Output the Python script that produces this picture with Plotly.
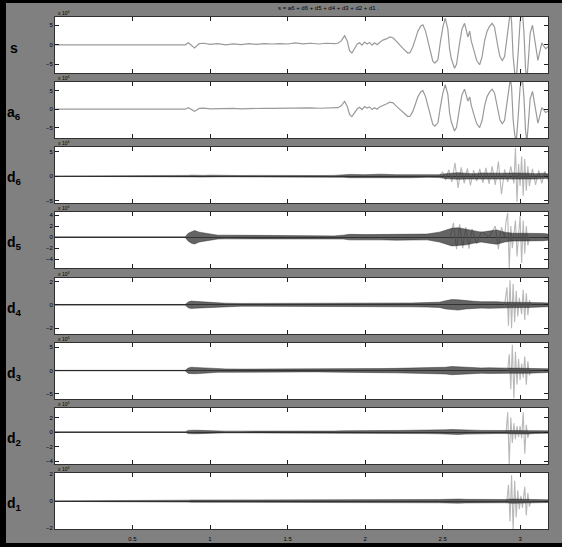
import plotly.graph_objects as go

# ---------------- data (x in units of 10^4 samples) ----------------
x_s = [0, 0.84, 0.86, 0.88, 0.9, 0.93, 0.96, 1.0, 1.05, 1.1, 1.15, 1.2, 1.25, 1.3, 1.35, 1.4, 1.45, 1.5,
       1.55, 1.6, 1.65, 1.7, 1.75, 1.8, 1.825, 1.846, 1.868, 1.885, 1.9, 1.915, 1.932, 1.95, 1.965, 1.98,
       1.997, 2.013, 2.029, 2.045, 2.061, 2.077, 2.094, 2.115, 2.137, 2.16, 2.18, 2.2, 2.212, 2.244, 2.26,
       2.276, 2.29, 2.308, 2.325, 2.341, 2.36, 2.373, 2.39, 2.405, 2.42, 2.437, 2.45, 2.47, 2.485, 2.502,
       2.517, 2.534, 2.545, 2.556, 2.577, 2.59, 2.61, 2.625, 2.642, 2.655, 2.663, 2.675, 2.685, 2.706, 2.72,
       2.739, 2.755, 2.771, 2.787, 2.803, 2.82, 2.835, 2.845, 2.857, 2.87, 2.885, 2.9, 2.911, 2.925, 2.937,
       2.945, 2.955, 2.965, 2.975, 2.986, 3.0, 3.014, 3.025, 3.035, 3.044, 3.055, 3.065, 3.08, 3.092, 3.105,
       3.115, 3.126, 3.14, 3.152, 3.165, 3.18]

s_vals = [0, 0, 0.5, -0.1, -0.8, 0.3, 0.4, 0.1, 0.3, 0.0, 0.25, 0.05, 0.3, 0.1, 0.3, 0.2, 0.3, 0.2,
          0.5, 0.25, 0.4, 0.2, 0.4, 0.3, 0.4, 1.0, 2.3, 1.0, -1.5, -2.1, -0.8, 0.2, 0.5, -0.1,
          0.7, 0.2, 0.6, -0.1, 0.5, 0.0, 0.6, 1.2, 1.5, 2.0, 1.8, 0.8, 0.5, -0.9, -1.6,
          -2.1, -2.0, -0.5, 1.5, 3.5, 4.8, 5.1, 3.5, 1.0, -2.0, -4.2, -4.7, -3.8, 0.5, 4.5,
          6.8, 4.0, -1.0, -3.5, -6.0, -5.0, 0.5, 4.0, 5.5, 3.0, 2.0, 3.5, 1.0, -2.0, -4.0,
          -5.1, -3.0, 1.0, 3.5, 4.7, 5.5, 4.5, 2.0, -0.5, -3.0, -4.0, -3.0, 0.5, 5.0, 8.5,
          6.0, -3.0, -7.0, -9.0, -3.0, 6.0, 9.0, 3.0, -6.0, -9.0, -3.0, 3.0, 5.0, 2.0, -2.0,
          -4.0, -2.0, 0.5, -0.3, -1.0, -0.5]

a6_vals = [0, 0, 0.4, 0.0, -0.6, 0.2, 0.3, 0.1, 0.2, 0.1, 0.2, 0.1, 0.2, 0.15, 0.25, 0.2, 0.25, 0.2,
           0.4, 0.3, 0.35, 0.25, 0.35, 0.3, 0.4, 0.9, 2.1, 0.8, -1.4, -2.0, -0.9, 0.1, 0.5, -0.1,
           0.7, 0.3, 0.6, -0.1, 0.4, 0.0, 0.6, 1.1, 1.4, 1.9, 1.7, 0.9, 0.4, -0.9, -1.5,
           -2.0, -1.9, -0.6, 1.4, 3.4, 4.7, 5.0, 3.4, 0.9, -2.0, -4.1, -4.6, -3.7, 0.4, 4.4,
           6.6, 4.0, -0.9, -3.4, -5.9, -4.9, 0.4, 3.9, 5.4, 3.1, 2.2, 3.3, 1.0, -2.0, -3.9,
           -5.0, -3.0, 0.9, 3.4, 4.6, 5.4, 4.4, 2.0, -0.5, -2.9, -3.9, -3.0, 0.4, 4.8, 8.2,
           6.0, -2.8, -6.8, -8.8, -3.0, 5.8, 8.8, 3.0, -5.8, -8.8, -3.0, 2.8, 4.8, 2.0, -1.8,
           -3.8, -2.0, 0.4, -0.2, -0.9, -0.5]

# detail envelopes (dense core), sampled on a common x grid
xd = [0, 0.84, 0.86, 0.88, 0.9, 0.93, 0.96, 1.0, 1.05, 1.1, 1.2, 1.3, 1.4, 1.5, 1.6, 1.7, 1.8, 1.86, 1.9, 2.0,
      2.1, 2.2, 2.3, 2.4, 2.48, 2.52, 2.56, 2.6, 2.65, 2.7, 2.75, 2.8, 2.85, 2.9, 2.95, 3.0, 3.05, 3.1, 3.15, 3.18]

d6_hi = [0.04, 0.04, 0.15, 0.2, 0.15, 0.2, 0.15, 0.2, 0.15, 0.15, 0.12, 0.15, 0.12, 0.12, 0.12, 0.12, 0.15, 0.25, 0.35, 0.3,
         0.4, 0.3, 0.35, 0.25, 0.3, 0.5, 0.65, 0.7, 0.6, 0.5, 0.65, 0.6, 0.5, 0.6, 0.65, 0.7, 0.6, 0.5, 0.6, 0.45]
d6_lo = [-0.04, -0.04, -0.15, -0.18, -0.16, -0.2, -0.15, -0.18, -0.15, -0.14, -0.15, -0.13, -0.12, -0.12, -0.15, -0.12, -0.13, -0.25, -0.32, -0.35,
         -0.32, -0.38, -0.32, -0.25, -0.3, -0.5, -0.65, -0.65, -0.6, -0.6, -0.65, -0.6, -0.6, -0.65, -0.65, -0.7, -0.65, -0.6, -0.5, -0.45]

d5_hi = [0.06, 0.06, 0.7, 1.0, 1.2, 0.9, 0.75, 0.6, 0.35, 0.35, 0.32, 0.28, 0.25, 0.22, 0.22, 0.25, 0.22, 0.35, 0.5, 0.45,
         0.5, 0.5, 0.5, 0.55, 0.9, 1.2, 1.6, 1.7, 1.4, 1.1, 0.9, 1.1, 1.3, 0.9, 0.7, 0.7, 0.7, 0.65, 0.65, 0.55]
d5_lo = [-0.06, -0.06, -0.75, -1.1, -1.25, -0.9, -0.75, -0.6, -0.35, -0.32, -0.32, -0.28, -0.25, -0.22, -0.22, -0.22, -0.22, -0.35, -0.5, -0.45,
         -0.5, -0.55, -0.5, -0.5, -0.9, -1.25, -1.6, -1.5, -1.4, -1.1, -0.9, -1.1, -1.3, -0.9, -0.7, -0.7, -0.7, -0.65, -0.65, -0.55]

d4_hi = [0.03, 0.03, 0.25, 0.32, 0.3, 0.27, 0.24, 0.2, 0.16, 0.14, 0.12, 0.12, 0.12, 0.11, 0.12, 0.12, 0.12, 0.14, 0.16, 0.16,
         0.17, 0.17, 0.16, 0.19, 0.23, 0.35, 0.45, 0.43, 0.35, 0.31, 0.27, 0.3, 0.27, 0.23, 0.23, 0.23, 0.23, 0.19, 0.18, 0.16]
d4_lo = [-0.03, -0.03, -0.26, -0.32, -0.29, -0.27, -0.24, -0.2, -0.16, -0.14, -0.12, -0.12, -0.12, -0.12, -0.12, -0.11, -0.12, -0.14, -0.16, -0.17,
         -0.17, -0.16, -0.17, -0.19, -0.23, -0.35, -0.43, -0.45, -0.35, -0.31, -0.28, -0.3, -0.27, -0.23, -0.23, -0.23, -0.23, -0.19, -0.17, -0.16]

d3_hi = [0.06, 0.06, 0.55, 0.72, 0.68, 0.64, 0.56, 0.48, 0.36, 0.36, 0.32, 0.32, 0.28, 0.28, 0.28, 0.28, 0.28, 0.36, 0.4, 0.4,
         0.44, 0.48, 0.52, 0.56, 0.6, 0.72, 0.88, 0.8, 0.72, 0.64, 0.56, 0.6, 0.56, 0.56, 0.56, 0.56, 0.56, 0.48, 0.44, 0.4]
d3_lo = [-0.06, -0.06, -0.6, -0.72, -0.68, -0.64, -0.56, -0.48, -0.36, -0.36, -0.32, -0.32, -0.28, -0.28, -0.28, -0.28, -0.28, -0.36, -0.4, -0.4,
         -0.44, -0.48, -0.52, -0.56, -0.6, -0.72, -0.88, -0.8, -0.72, -0.64, -0.56, -0.6, -0.56, -0.56, -0.56, -0.56, -0.56, -0.48, -0.44, -0.4]

d2_hi = [0.03, 0.03, 0.22, 0.27, 0.25, 0.23, 0.2, 0.16, 0.13, 0.12, 0.12, 0.11, 0.12, 0.12, 0.12, 0.13, 0.13, 0.16, 0.18, 0.2,
         0.2, 0.21, 0.21, 0.22, 0.25, 0.3, 0.34, 0.34, 0.29, 0.25, 0.22, 0.22, 0.21, 0.22, 0.27, 0.27, 0.27, 0.2, 0.18, 0.16]
d2_lo = [-0.03, -0.03, -0.22, -0.27, -0.25, -0.23, -0.2, -0.16, -0.13, -0.12, -0.12, -0.12, -0.12, -0.12, -0.12, -0.13, -0.13, -0.16, -0.18, -0.2,
         -0.2, -0.21, -0.21, -0.22, -0.25, -0.3, -0.34, -0.34, -0.29, -0.25, -0.22, -0.22, -0.21, -0.22, -0.27, -0.27, -0.27, -0.2, -0.18, -0.16]

d1_hi = [0.02, 0.02, 0.07, 0.08, 0.08, 0.07, 0.07, 0.07, 0.07, 0.07, 0.07, 0.08, 0.08, 0.09, 0.1, 0.1, 0.1, 0.1, 0.1, 0.1,
         0.1, 0.1, 0.1, 0.1, 0.12, 0.13, 0.15, 0.15, 0.13, 0.12, 0.1, 0.1, 0.1, 0.12, 0.15, 0.15, 0.15, 0.1, 0.1, 0.1]
d1_lo = [-0.02, -0.02, -0.07, -0.08, -0.08, -0.07, -0.07, -0.07, -0.07, -0.07, -0.07, -0.08, -0.08, -0.09, -0.1, -0.1, -0.1, -0.1, -0.1, -0.1,
         -0.1, -0.1, -0.1, -0.1, -0.12, -0.13, -0.15, -0.15, -0.13, -0.12, -0.1, -0.1, -0.1, -0.12, -0.15, -0.15, -0.15, -0.1, -0.1, -0.1]

# large excursions of the details (light strokes)
d6_sx = [2.48, 2.5, 2.52, 2.54, 2.56, 2.58, 2.6, 2.62, 2.64, 2.66, 2.68, 2.7, 2.72, 2.74, 2.76, 2.78, 2.8, 2.82,
         2.84, 2.86, 2.88, 2.9, 2.92, 2.94, 2.96, 2.97, 2.98, 2.99, 3.0, 3.01, 3.02, 3.03, 3.04, 3.05, 3.06, 3.08,
         3.1, 3.12, 3.14, 3.16, 3.18]
d6_sy = [0, 0.9, -0.8, 1.3, -1.2, 2.7, -2.4, 1.8, -1.5, 1.6, -1.9, 1.2, -1.0, 1.5, -1.4, 1.7, -1.6, 2.0,
         -1.8, 3.0, -3.7, 1.4, -1.2, 2.0, -1.5, 5.8, -5.3, 2.5, -2.0, 4.0, -4.0, 3.5, -3.0, 2.0, -2.0, 1.5,
         -1.8, 1.2, -1.5, 1.0, -0.8]
d5_sx = [2.55, 2.57, 2.59, 2.61, 2.63, 2.65, 2.67, 2.69, 2.72, 2.75, 2.8, 2.84, 2.86, 2.88, 2.9, 2.91, 2.92,
         2.93, 2.94, 2.95, 2.97, 2.98, 3.0, 3.01, 3.02, 3.03, 3.04, 3.05, 3.06]
d5_sy = [0, 2.6, -2.2, 2.3, -2.0, 1.8, -2.1, 1.5, -1.2, 1.0, 0, 2.0, -2.2, 1.8, 0, 3.0, 4.4,
         -5.8, 2.0, -2.0, 3.0, -3.5, 3.8, -4.7, 3.0, -3.0, 2.0, -1.5, 0]
d4_sx = [2.9, 2.915, 2.925, 2.935, 2.945, 2.955, 2.965, 2.975, 2.985, 2.995, 3.01, 3.02, 3.03, 3.04, 3.05,
         3.06, 3.07]
d4_sy = [0, 1.5, -1.8, 2.1, -2.0, 1.8, -1.5, 1.2, -1.0, 0.6, -0.8, 1.3, -1.3, 1.0, -0.9, 0.4, 0]
d3_sx = [2.92, 2.93, 2.94, 2.95, 2.96, 2.97, 2.98, 2.99, 3.0, 3.01, 3.02, 3.03, 3.04, 3.05, 3.06, 3.07]
d3_sy = [0, 3.5, -4.0, 5.5, -5.9, 4.0, -3.0, 2.5, -2.0, 1.5, -1.5, 3.0, -3.0, 2.0, -1.0, 0]
d2_sx = [2.91, 2.92, 2.93, 2.94, 2.95, 2.96, 2.97, 2.98, 2.99, 3.0, 3.01, 3.02, 3.03, 3.04, 3.05, 3.06]
d2_sy = [0, 2.7, -4.5, 2.0, -1.5, 1.2, -1.0, 0.8, -0.7, 0.8, -0.9, 2.7, -3.0, 1.0, -0.8, 0]
d1_sx = [2.915, 2.925, 2.935, 2.945, 2.955, 2.965, 2.975, 2.985, 2.995, 3.005, 3.015, 3.03, 3.04, 3.05,
         3.06, 3.07]
d1_sy = [0, 1.2, -1.5, 1.9, -2.1, 1.5, -1.2, 0.8, -0.6, 0.4, -0.5, 1.05, -1.05, 0.6, -0.4, 0]

row_labels = ["s", "a<sub>6</sub>", "d<sub>6</sub>", "d<sub>5</sub>", "d<sub>4</sub>",
              "d<sub>3</sub>", "d<sub>2</sub>", "d<sub>1</sub>"]
x_tickvals = [0.5, 1, 1.5, 2, 2.5, 3]
x_ticktext = ["0.5", "1", "1.5", "2", "2.5", "3"]
y_tickvals = [[-5, 0, 5], [-5, 0, 5], [-5, 0, 5], [-4, -2, 0, 2, 4], [-2, 0, 2],
              [-5, 0, 5], [-4, -2, 0, 2], [-2, 0, 2]]
title_text = "s = a6 + d6 + d5 + d4 + d3 + d2 + d1 ."

# ---------------- layout geometry ----------------
W, H = 562, 547
ML, MR, MT, MB = 55, 14, 17, 18
PW, PH = W - ML - MR, H - MT - MB
tops = [17, 82, 147, 212, 278, 343, 408, 473]
ph = 56
y_ranges = [[-7.2, 7.1], [-7.8, 7.35], [-5.5, 5.96], [-5.6, 4.55], [-2.5, 2.3],
            [-6.07, 5.9], [-4.4, 3.3], [-2.05, 2.07]]

def py(p):
    return 1 - (p - MT) / PH

def px(p):
    return (p - ML) / PW

fig = go.Figure()
core_line = "rgba(30,30,30,0.85)"
core_fill = "rgba(40,40,40,0.72)"
light = "#b8b8b8"
sig = "#9a9a9a"

details = [
    (d6_hi, d6_lo, d6_sx, d6_sy),
    (d5_hi, d5_lo, d5_sx, d5_sy),
    (d4_hi, d4_lo, d4_sx, d4_sy),
    (d3_hi, d3_lo, d3_sx, d3_sy),
    (d2_hi, d2_lo, d2_sx, d2_sy),
    (d1_hi, d1_lo, d1_sx, d1_sy),
]

def ax(i):
    return ("x" if i == 0 else f"x{i+1}"), ("y" if i == 0 else f"y{i+1}")

xa, ya = ax(0)
fig.add_trace(go.Scatter(x=x_s, y=s_vals, mode="lines", line=dict(color=sig, width=1.2),
                         xaxis=xa, yaxis=ya, showlegend=False, hoverinfo="skip"))
xa, ya = ax(1)
fig.add_trace(go.Scatter(x=x_s, y=a6_vals, mode="lines", line=dict(color=sig, width=1.2),
                         xaxis=xa, yaxis=ya, showlegend=False, hoverinfo="skip"))

for k, (hi, lo, sx, sy) in enumerate(details):
    xa, ya = ax(k + 2)
    fig.add_trace(go.Scatter(x=sx, y=sy, mode="lines", line=dict(color=light, width=1.1),
                             xaxis=xa, yaxis=ya, showlegend=False, hoverinfo="skip"))
    fig.add_trace(go.Scatter(x=xd, y=lo, mode="lines", line=dict(color=core_line, width=0.5),
                             xaxis=xa, yaxis=ya, showlegend=False, hoverinfo="skip"))
    fig.add_trace(go.Scatter(x=xd, y=hi, mode="lines", line=dict(color=core_line, width=0.5),
                             fill="tonexty", fillcolor=core_fill,
                             xaxis=xa, yaxis=ya, showlegend=False, hoverinfo="skip"))

tickfont = dict(family="Liberation Sans", size=6, color="black")
layout = dict(
    width=W, height=H, autosize=False,
    margin=dict(l=ML, r=MR, t=MT, b=MB, pad=0, autoexpand=False),
    paper_bgcolor="#808080", plot_bgcolor="white",
    showlegend=False,
)
for i in range(8):
    xname = "xaxis" if i == 0 else f"xaxis{i+1}"
    yname = "yaxis" if i == 0 else f"yaxis{i+1}"
    xa, ya = ax(i)
    layout[xname] = dict(
        domain=[0, 1], anchor=ya, range=[0, 3.18],
        tickvals=x_tickvals, ticktext=x_ticktext, showticklabels=(i == 7),
        ticks="inside", ticklen=4, tickcolor="#202020", tickwidth=1,
        showline=True, linecolor="#303030", linewidth=1, mirror="ticks",
        showgrid=False, zeroline=False, tickfont=tickfont, fixedrange=True,
        automargin=False, ticklabelstandoff=4,
    )
    layout[yname] = dict(
        domain=[py(tops[i] + ph), py(tops[i])], anchor=xa, range=y_ranges[i],
        tickvals=y_tickvals[i], ticks="inside", ticklen=4, tickcolor="#202020", tickwidth=1,
        showline=True, linecolor="#303030", linewidth=1, mirror="ticks",
        showgrid=False, zeroline=(i >= 2), zerolinecolor="#505050", zerolinewidth=1,
        tickfont=tickfont, fixedrange=True, automargin=False,
    )
fig.update_layout(**layout)

annotations = []
for i, lab in enumerate(row_labels):
    annotations.append(dict(text="<b>" + lab + "</b>", xref="paper", yref="paper",
                            x=px(14), y=py(tops[i] + 31), xanchor="center", yanchor="middle",
                            showarrow=False, font=dict(family="Liberation Sans", size=14, color="black")))
    annotations.append(dict(text="x 10<sup>4</sup>", xref="paper", yref="paper",
                            x=px(56), y=py(tops[i] - 4), xanchor="left", yanchor="middle",
                            showarrow=False, font=dict(family="Liberation Sans", size=5, color="black")))
annotations.append(dict(text=title_text, xref="paper", yref="paper", x=px(328), y=py(8),
                        xanchor="center", yanchor="middle", showarrow=False,
                        font=dict(family="Liberation Sans", size=6, color="black")))
fig.update_layout(annotations=annotations)

# black frame of the figure window (left, top, bottom edges)
shapes = [
    dict(type="rect", xref="paper", yref="paper", x0=px(0), x1=px(6), y0=py(H), y1=py(0),
         fillcolor="black", line=dict(width=0), layer="above"),
    dict(type="rect", xref="paper", yref="paper", x0=px(0), x1=px(W), y0=py(3), y1=py(0),
         fillcolor="black", line=dict(width=0), layer="above"),
    dict(type="rect", xref="paper", yref="paper", x0=px(0), x1=px(W), y0=py(H), y1=py(543),
         fillcolor="black", line=dict(width=0), layer="above"),
]
fig.update_layout(shapes=shapes)

fig.write_html(
    "out.html",
    config={"displayModeBar": False, "responsive": False},
    post_script=("document.documentElement.style.margin='0px';"
                 "document.body.style.margin='0px';"
                 "document.body.style.overflow='hidden';"
                 "document.documentElement.style.background='#808080';"
                 "document.body.style.background='#808080';"),
)
